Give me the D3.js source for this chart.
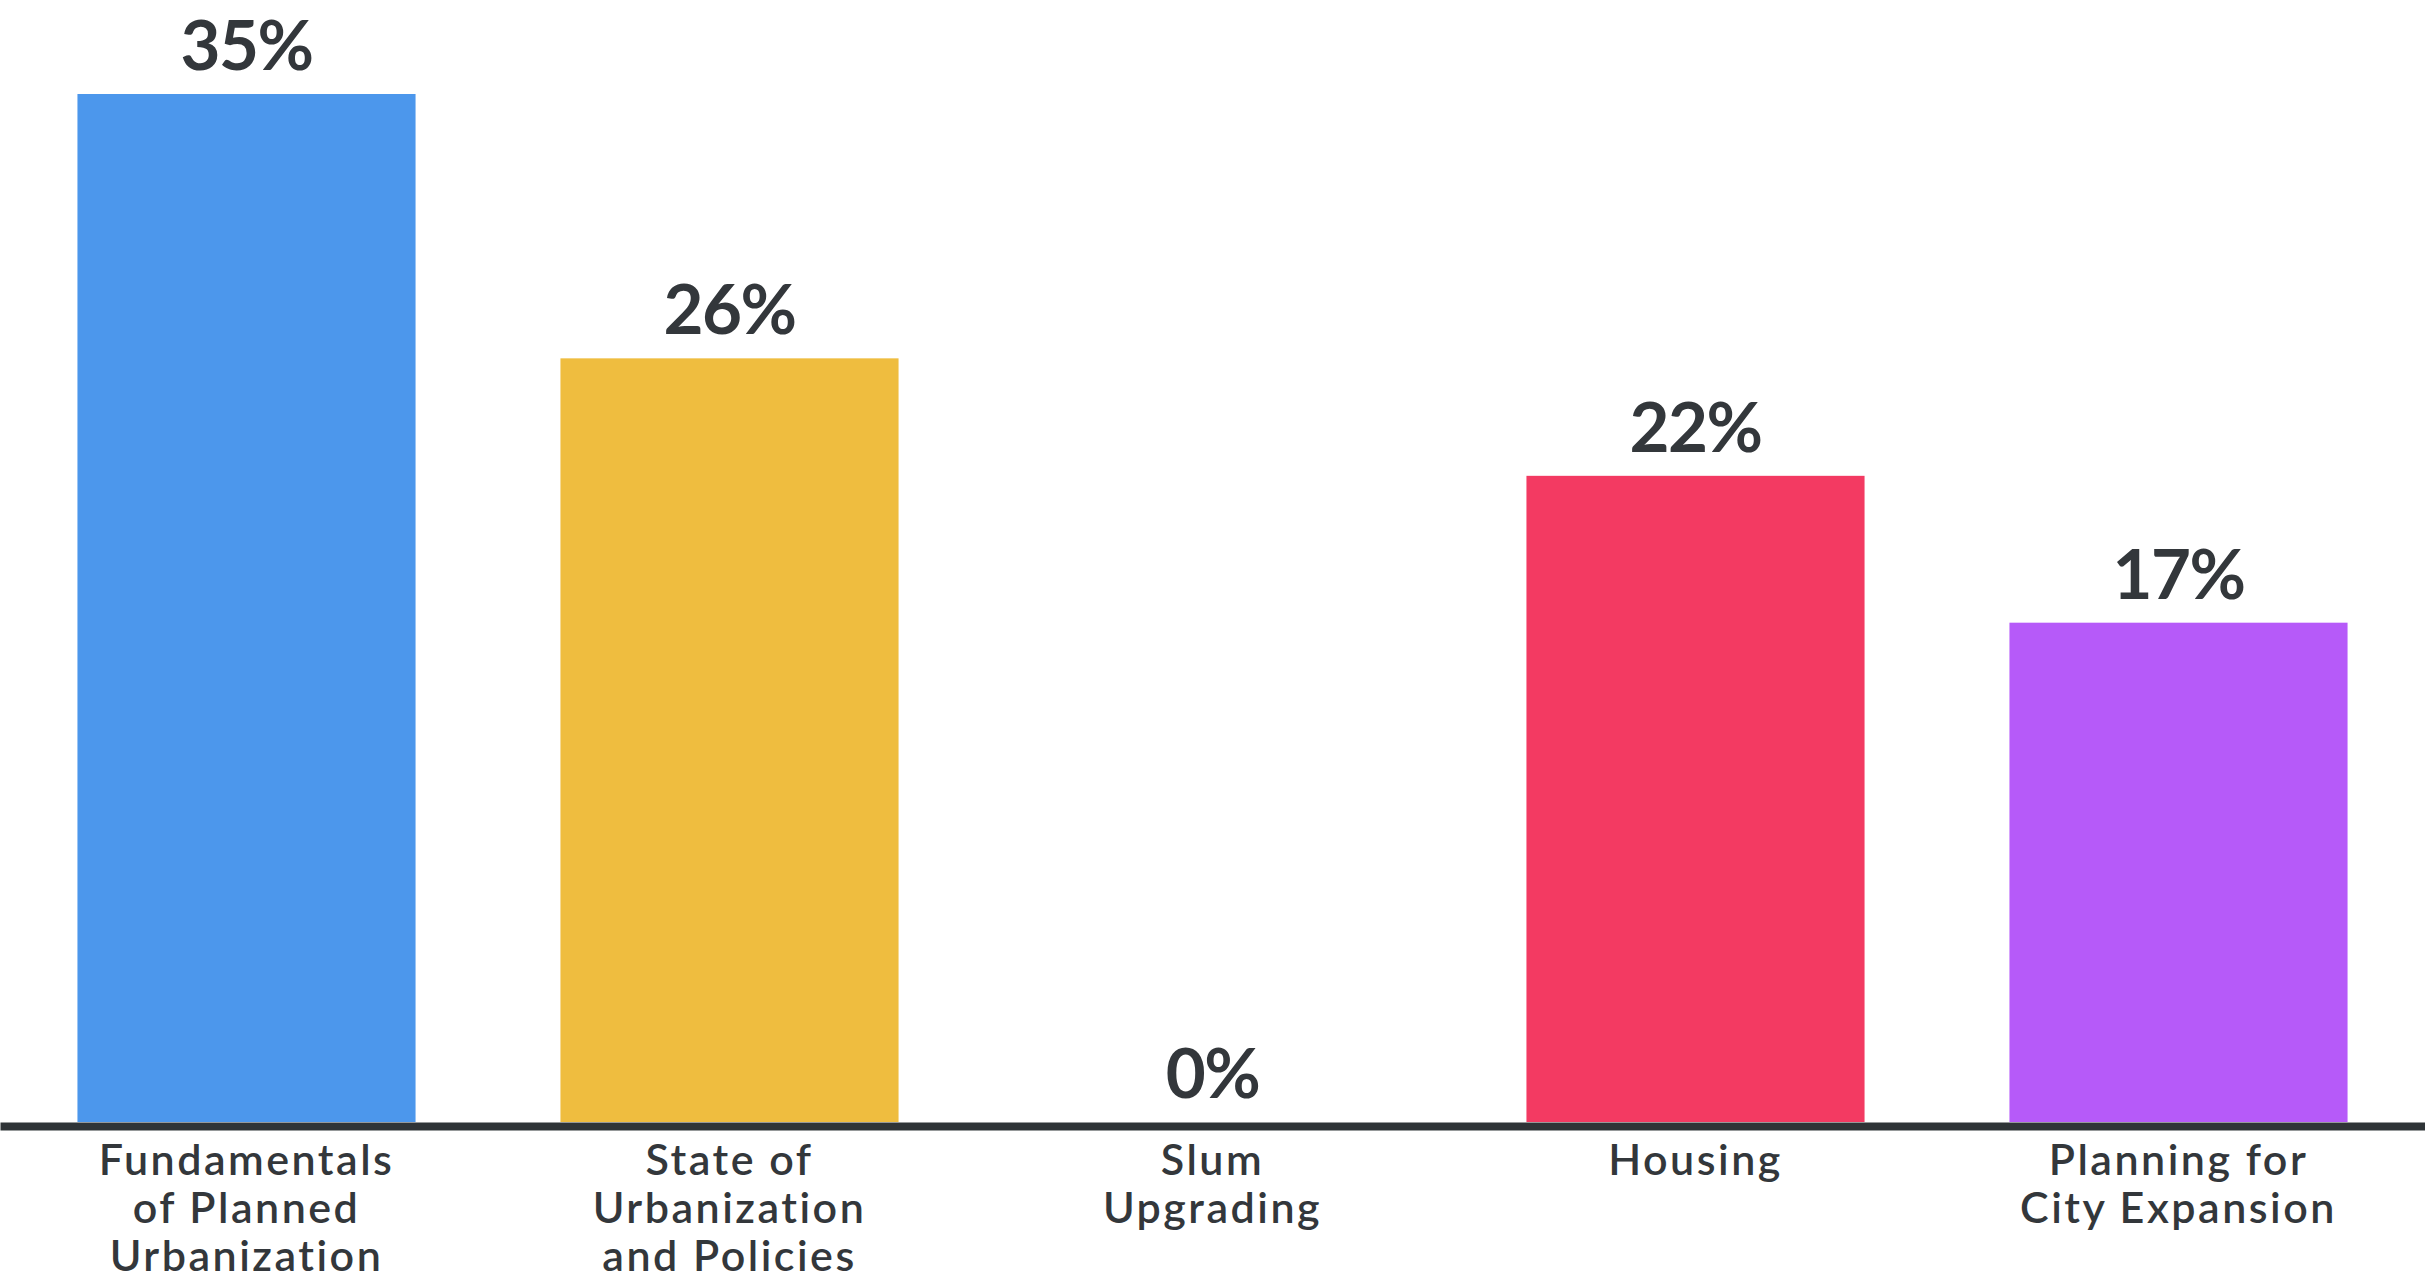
<!DOCTYPE html>
<html>
<head>
<meta charset="utf-8">
<script src="https://cdn.jsdelivr.net/npm/d3@7/dist/d3.min.js"></script>
<style>
  html, body { margin: 0; padding: 0; background: #ffffff; }
  svg { display: block; }
</style>
</head>
<body>
<svg id="chart" width="2425" height="1279"></svg>
<script>
// Share of responses per training module
const categories = [
  ["Fundamentals", "of Planned", "Urbanization"],
  ["State of", "Urbanization", "and Policies"],
  ["Slum", "Upgrading"],
  ["Housing"],
  ["Planning for", "City Expansion"]
];
const values = [35, 26, 0, 22, 17];
const barColors = ["#4c97ec", "#efbd3f", "#ffffff", "#f33a62", "#b65af9"];

const W = 2425, H = 1279;
const baseline = 1122;
const textColor = "#33373b";

const svg = d3.select("#chart");

const x = d3.scaleBand()
  .domain(d3.range(values.length))
  .range([5, 2420])
  .paddingInner(0.30)
  .paddingOuter(0.15);

const y = d3.scaleLinear()
  .domain([0, 35])
  .range([baseline, 94]);

// bars
svg.append("g")
  .selectAll("rect")
  .data(values)
  .join("rect")
  .attr("x", (d, i) => x(i))
  .attr("width", x.bandwidth())
  .attr("y", d => y(d))
  .attr("height", d => baseline - y(d))
  .attr("fill", (d, i) => barColors[i]);

// baseline axis
const axis = d3.axisBottom(d3.scaleLinear().range([0, W])).ticks(0).tickSize(0).tickSizeOuter(0);
const axisG = svg.append("g")
  .attr("transform", `translate(0,${baseline + 4})`)
  .call(axis);
axisG.select(".domain").attr("stroke", "#2f3437").attr("stroke-width", 8);
axisG.selectAll("text").remove();

// value labels
svg.append("g")
  .selectAll("text")
  .data(values)
  .join("text")
  .attr("x", (d, i) => x(i) + x.bandwidth() / 2)
  .attr("y", d => y(d) - 24)
  .attr("text-anchor", "middle")
  .attr("font-family", "Lato, 'Noto Sans', sans-serif")
  .attr("font-weight", 700)
  .attr("font-size", 69)
  .attr("letter-spacing", -1.5)
  .attr("fill", textColor)
  .text(d => d + "%");

// category labels
const cat = svg.append("g")
  .selectAll("text")
  .data(categories)
  .join("text")
  .attr("text-anchor", "middle")
  .attr("font-family", "Lato, 'Noto Sans', sans-serif")
  .attr("font-weight", 600)
  .attr("font-size", 43)
  .attr("letter-spacing", 2.5)
  .attr("fill", textColor)
  .attr("transform", (d, i) => `translate(${x(i) + x.bandwidth() / 2},1175)`);

cat.selectAll("tspan")
  .data(d => d)
  .join("tspan")
  .attr("x", 0)
  .attr("y", (d, j) => j * 48)
  .text(d => d);
</script>
</body>
</html>
